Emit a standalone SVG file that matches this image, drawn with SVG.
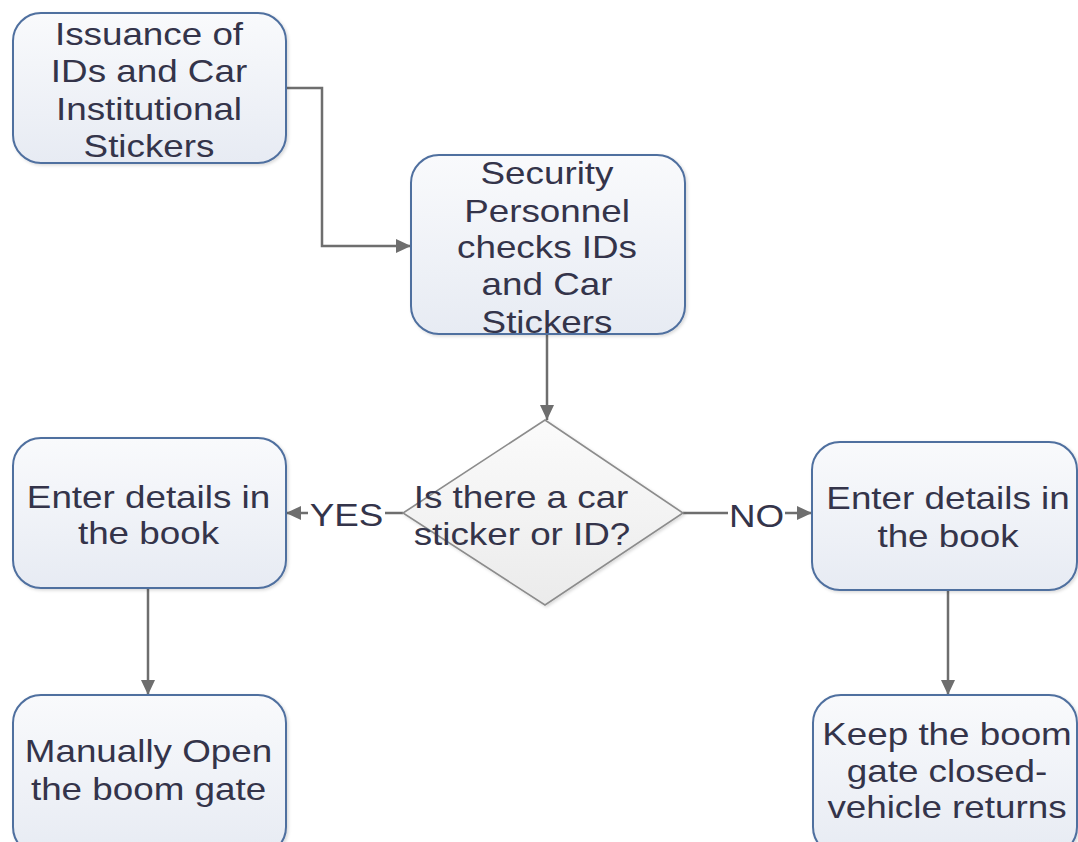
<svg xmlns="http://www.w3.org/2000/svg" width="1078" height="842" viewBox="0 0 1078 842">
  <defs>
    <linearGradient id="boxFill" x1="0" y1="0" x2="0" y2="1">
      <stop offset="0" stop-color="#f9fafc"/>
      <stop offset="1" stop-color="#e7ebf3"/>
    </linearGradient>
    <linearGradient id="diamondFill" x1="0" y1="0" x2="0" y2="1">
      <stop offset="0" stop-color="#fbfbfb"/>
      <stop offset="1" stop-color="#ebebeb"/>
    </linearGradient>
    <filter id="shadow" x="-10%" y="-10%" width="120%" height="120%">
      <feDropShadow dx="1.5" dy="1.5" stdDeviation="1.5" flood-color="#000" flood-opacity="0.15"/>
    </filter>
    <marker id="arrow" markerUnits="userSpaceOnUse" markerWidth="16" markerHeight="14" refX="15" refY="7" orient="auto">
      <path d="M0,0 L15,7 L0,14 z" fill="#6e6e6e"/>
    </marker>
  </defs>
  <style>
    .box { fill: url(#boxFill); stroke: #4f6f9f; stroke-width: 2; filter: url(#shadow); }
    .diamond { fill: url(#diamondFill); stroke: #8c8c8c; stroke-width: 1.6; filter: url(#shadow); }
    .lbl { font-family: "Liberation Sans", Arial, sans-serif; font-size: 32px; fill: #34344a; text-anchor: middle; }
    .conn { fill: none; stroke: #6e6e6e; stroke-width: 2.5; }
  </style>

  <rect width="1078" height="842" fill="#ffffff"/>

  <!-- connectors -->
  <g id="connectors">
    <path class="conn" d="M286,88 H322 V246 H411" marker-end="url(#arrow)"/>
    <path class="conn" d="M547,334 V420" marker-end="url(#arrow)"/>
    <path class="conn" d="M403,513 H286" marker-end="url(#arrow)"/>
    <path class="conn" d="M683,513 H812" marker-end="url(#arrow)"/>
    <path class="conn" d="M148,588 V695" marker-end="url(#arrow)"/>
    <path class="conn" d="M948,590 V695" marker-end="url(#arrow)"/>
    <rect x="308" y="500" width="77" height="28" fill="#ffffff"/>
    <text class="lbl" transform="translate(346.5,526) scale(1.15,1)">YES</text>
    <rect x="728" y="500" width="57" height="28" fill="#ffffff"/>
    <text class="lbl" transform="translate(756.5,527) scale(1.15,1)">NO</text>
  </g>

  <!-- issuance -->
  <g id="node-issuance">
    <rect class="box" x="13" y="13" width="273" height="150" rx="28" ry="28"/>
    <text class="lbl" transform="translate(149,45) scale(1.15,1)">Issuance of</text>
    <text class="lbl" transform="translate(149,82) scale(1.15,1)">IDs and Car</text>
    <text class="lbl" transform="translate(149,120) scale(1.15,1)">Institutional</text>
    <text class="lbl" transform="translate(149,157) scale(1.15,1)">Stickers</text>
  </g>

  <!-- security check -->
  <g id="node-security">
    <rect class="box" x="411" y="155" width="274" height="179" rx="28" ry="28"/>
    <text class="lbl" transform="translate(547,184) scale(1.15,1)">Security</text>
    <text class="lbl" transform="translate(547,222) scale(1.15,1)">Personnel</text>
    <text class="lbl" transform="translate(547,258) scale(1.15,1)">checks IDs</text>
    <text class="lbl" transform="translate(547,295) scale(1.15,1)">and Car</text>
    <text class="lbl" transform="translate(547,333) scale(1.15,1)">Stickers</text>
  </g>

  <!-- decision -->
  <g id="node-decision">
    <polygon class="diamond" points="545,420 683,513 545,605 403,513"/>
    <text class="lbl" transform="translate(521,508) scale(1.15,1)">Is there a car</text>
    <text class="lbl" transform="translate(522,545) scale(1.15,1)">sticker or ID?</text>
  </g>

  <!-- yes branch -->
  <g id="node-enter-yes">
    <rect class="box" x="13" y="438" width="273" height="150" rx="28" ry="28"/>
    <text class="lbl" transform="translate(148.5,508) scale(1.15,1)">Enter details in</text>
    <text class="lbl" transform="translate(148.5,544) scale(1.15,1)">the book</text>
  </g>

  <g id="node-open-gate">
    <rect class="box" x="13" y="695" width="273" height="160" rx="28" ry="28"/>
    <text class="lbl" transform="translate(148.5,762) scale(1.15,1)">Manually Open</text>
    <text class="lbl" transform="translate(148.5,800) scale(1.15,1)">the boom gate</text>
  </g>

  <!-- no branch -->
  <g id="node-enter-no">
    <rect class="box" x="812" y="442" width="265" height="148" rx="28" ry="28"/>
    <text class="lbl" transform="translate(948,509) scale(1.15,1)">Enter details in</text>
    <text class="lbl" transform="translate(948,547) scale(1.15,1)">the book</text>
  </g>

  <g id="node-keep-closed">
    <rect class="box" x="813" y="695" width="264" height="160" rx="28" ry="28"/>
    <text class="lbl" transform="translate(947,745) scale(1.15,1)">Keep the boom</text>
    <text class="lbl" transform="translate(947,782) scale(1.15,1)">gate closed-</text>
    <text class="lbl" transform="translate(947,818) scale(1.15,1)">vehicle returns</text>
  </g>
</svg>
